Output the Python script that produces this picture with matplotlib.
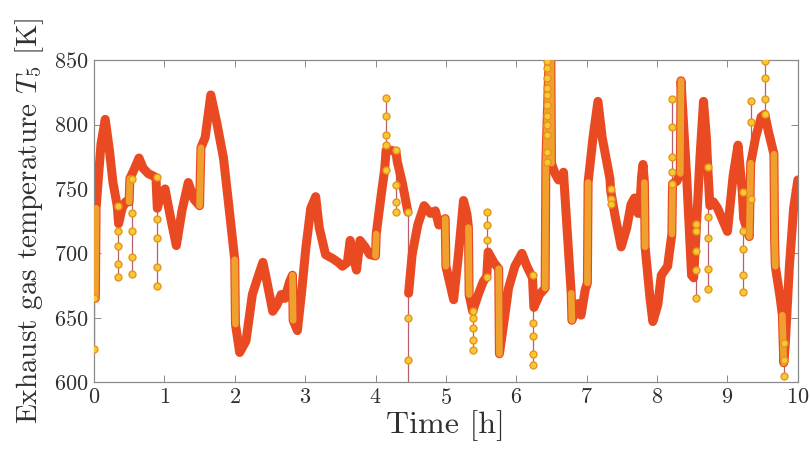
import numpy as np
import matplotlib
matplotlib.use("Agg")
import matplotlib.pyplot as plt

plt.rcParams['font.family'] = 'serif'
plt.rcParams['font.serif'] = ['cmr10', 'DejaVu Serif']
plt.rcParams['mathtext.fontset'] = 'cm'
plt.rcParams['axes.formatter.use_mathtext'] = True

# main trajectory (thick band); nan marks an interruption of the band
band_t = [0.01, 0.02, 0.03, 0.10, 0.16, 0.22, 0.27, 0.33, 0.35, 0.40, 0.45, 0.50, 0.51,
          0.57, 0.64, 0.70, 0.77, 0.88, 0.90, 0.95, 1.01, 1.08, 1.17, 1.25, 1.34, 1.42,
          1.50, 1.52, 1.58, 1.66, 1.75, 1.84, 1.92, 2.00, 2.01, 2.07, 2.16, 2.25, 2.32,
          2.40, 2.45, 2.54, 2.60, 2.66, 2.71, 2.78, 2.82, 2.83, 2.89, 2.95, 3.01, 3.08,
          3.15, 3.20, 3.29, 3.39, 3.47, 3.53, 3.60, 3.64, 3.69, 3.73, 3.78, 3.85, 3.92,
          4.00, 4.01, 4.08, 4.13, 4.15, 4.22, 4.29, 4.31, 4.38, 4.46, 4.465, 4.47, 4.52,
          4.60, 4.69, 4.78, 4.85, 4.90, 4.95, 4.99, 5.00, 5.11, 5.18, 5.25, 5.30, 5.32,
          5.33, 5.38, 5.46, 5.53, 5.58, 5.60, 5.68, 5.75, 5.76, 5.82, 5.89, 5.98, 6.08,
          6.15, 6.23, 6.25, 6.33, 6.41, 6.42, 6.47, 6.49, 6.50, 6.55, 6.60, 6.64, 6.67,
          6.72, 6.78, 6.79, 6.84, 6.88, 6.92, 6.98, 7.01, 7.02, 7.09, 7.16, 7.22, 7.33,
          7.34, 7.40, 7.49, 7.57, 7.63, 7.68, 7.73, 7.75, 7.78, 7.80, 7.82, 7.83, 7.90,
          7.94, 8.01, 8.06, 8.15, 8.21, 8.22, 8.28, 8.33, 8.34, 8.42, 8.49, 8.52, 8.56,
          8.61, 8.66, 8.70, 8.72, 8.75, 8.80, 8.86, 9.00, 9.08, 9.15, 9.21, 9.23, 9.31,
          9.32, 9.33, 9.40, 9.48, 9.53, 9.58, 9.66, 9.67, 9.68, 9.75, 9.78, 9.80, 9.82,
          9.88, 9.94, 10.0]
band_T = [665, 665, 735, 785, 804, 780, 755, 737, 723, 735, 740, 740, 758,
          765, 774, 766, 762, 759, 735, 745, 750, 730, 706, 733, 755, 742,
          737, 782, 790, 823, 800, 774, 735, 695, 645, 623, 632, 668, 680,
          693, 680, 655, 660, 668, 665, 678, 683, 648, 640, 670, 704, 735,
          744, 720, 699, 696, 693, 690, 693, 710, 696, 687, 710, 705, 699,
          698, 715, 745, 765, 780, 780, 779, 771, 755, 732, np.nan, 669, 699,
          722, 737, 731, 733, 722, 725, 727, 690, 664, 700, 741, 730, 720,
          668, 655, 668, 678, 682, 701, 693, 688, 622, 645, 673, 690, 700,
          690, 681, 658, 668, 673, 771, 860, 860, 770, 762, 757, 758, 763,
          720, 669, 648, 655, 661, 652, 672, 677, 755, 790, 818, 790, 758,
          749, 730, 705, 720, 738, 743, 731, 731, 760, 769, 755, 705, 665,
          647, 660, 683, 690, 715, 754, 756, 762, 834, 760, 683, 681, 722,
          775, 818, 790, 767, 737, 740, 735, 717, 760, 784, 748, 727, 713,
          742, 770, 790, 806, 808, 795, 777, 709, 690, 665, 652, 615, 628,
          690, 735, 757]

# sparse sample columns (thin line with circle markers)
spike_t = [0.0, 0.345, 0.535, 0.89, 4.15, 4.29, 4.46, 5.39, 5.58, 6.24, 6.44,
           7.34, 8.21, 8.56, 8.72, 9.22, 9.33, 9.53, 9.80]
spike_T = [[665, 626],
           [737, 717, 706, 692, 682],
           [758, 731, 717, 697, 684],
           [759, 727, 712, 689, 675],
           [765, 784, 792, 807, 821],
           [780, 753, 740, 732],
           [732, 650, 617, 590],
           [655, 650, 642, 633, 625],
           [682, 710, 722, 732],
           [683, 646, 636, 622, 613],
           [771, 779, 792, 800, 807, 815, 823, 828, 836, 844, 849],
           [750, 742, 738],
           [754, 763, 775, 798, 820],
           [723, 717, 702, 687, 665],
           [767, 728, 712, 688, 672],
           [748, 717, 703, 683, 670],
           [742, 802, 818],
           [808, 820, 836, 849],
           [630, 617, 605]]

xticks = list(range(0, 11))
yticks = [600, 650, 700, 750, 800, 850]

fig = plt.figure(figsize=(8.10, 4.49), dpi=100)
ax = fig.add_axes([0.116, 0.149, 0.869, 0.717])

bt = np.array(band_t, dtype=float)
bT = np.array(band_T, dtype=float)

# spike columns
for t, vals in zip(spike_t, spike_T):
    ax.plot([t] * len(vals), vals, '-', color='#b8606a', lw=0.9, zorder=1)

# thick band
ax.plot(bt, bT, color='#ea4a22', lw=6.5, solid_capstyle='round',
        solid_joinstyle='round', zorder=2)

# steep transitions drawn in orange (dense stacked samples)
for i in range(len(bt) - 1):
    if np.isnan(bT[i]) or np.isnan(bT[i + 1]):
        continue
    rate = abs(bT[i + 1] - bT[i]) / (bt[i + 1] - bt[i])
    if rate > 1500:
        ax.plot([bt[i], bt[i + 1]], [bT[i], bT[i + 1]], color='#f0a02c',
                lw=4.8, solid_capstyle='round', zorder=3)

for t, vals in zip(spike_t, spike_T):
    ax.plot([t] * len(vals), vals, 'o', ms=5, mfc='#f8c832', mec='#e39520',
            mew=1.0, zorder=4, clip_on=True)

ax.set_xlim(0, 10)
ax.set_ylim(600, 850)
ax.set_xticks(xticks)
ax.set_yticks(yticks)
ax.tick_params(direction='in', top=True, right=True, length=5, width=0.7,
               colors='#8a8a8a', labelcolor='#303030', labelsize=16, pad=4)
for s in ax.spines.values():
    s.set_color('#8a8a8a')
    s.set_linewidth(0.9)

ax.set_xlabel('Time [h]', fontsize=23, color='#303030', labelpad=2)
ax.set_ylabel(r'Exhaust gas temperature $T_5$ [K]', fontsize=21, color='#303030', labelpad=6)

fig.savefig('out.png', dpi=100)
